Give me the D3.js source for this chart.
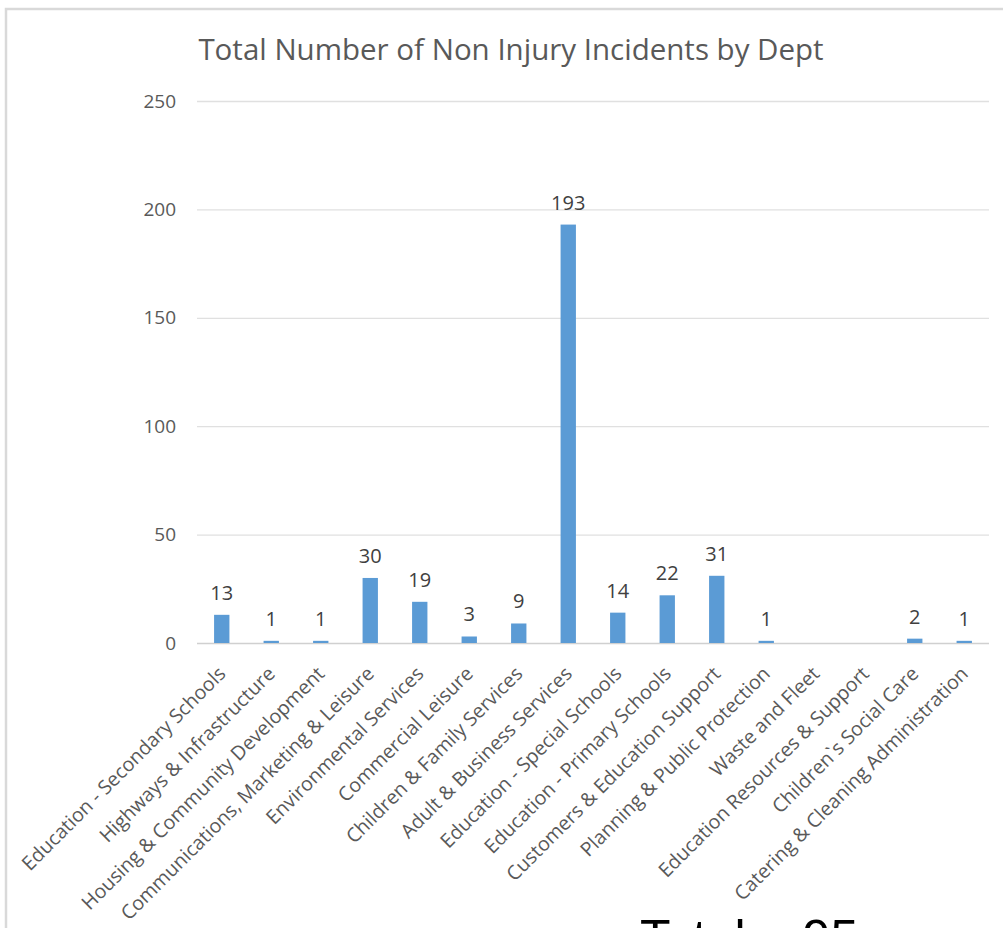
<!DOCTYPE html>
<html>
<head>
<meta charset="utf-8">
<script src="https://cdn.jsdelivr.net/npm/d3@7"></script>
<style>
  html, body { margin: 0; padding: 0; background: #fff; }
  svg { display: block; }
</style>
</head>
<body>
<svg id="chart" width="1003" height="928"></svg>
<script>
// Departments along the x axis
const departments = [
  "Education - Secondary Schools",
  "Highways & Infrastructure",
  "Housing & Community Development",
  "Communications, Marketing & Leisure",
  "Environmental Services",
  "Commercial Leisure",
  "Children & Family Services",
  "Adult & Business Services",
  "Education - Special Schools",
  "Education - Primary Schools",
  "Customers & Education Support",
  "Planning & Public Protection",
  "Waste and Fleet",
  "Education Resources & Support",
  "Children`s Social Care",
  "Catering & Cleaning Administration"
];
// Non injury incident counts (null = no incidents recorded)
const incidents = [13, 1, 1, 30, 19, 3, 9, 193, 14, 22, 31, 1, null, null, 2, 1];
const yTicks = [0, 50, 100, 150, 200, 250];
const chartTitle = "Total Number of Non Injury Incidents by Dept";
const footerText = "Total = 95";

const rows = departments.map((d, i) => ({ dept: d, value: incidents[i] }));

const svg = d3.select("#chart");
const font = "'Open Sans', 'Noto Sans', sans-serif";

// chart frame
svg.append("rect")
  .attr("x", 6).attr("y", 9)
  .attr("width", 1100).attr("height", 1100)
  .attr("fill", "#fff")
  .attr("stroke", "#d9d9d9").attr("stroke-width", 2.5);

const x = d3.scaleBand()
  .domain(departments)
  .range([197, 989])
  .paddingInner(0.69)
  .paddingOuter(0.345);

const y = d3.scaleLinear().domain([0, 250]).range([643, 101]);

// title
svg.append("text")
  .attr("x", 511).attr("y", 60)
  .attr("text-anchor", "middle")
  .attr("font-family", font)
  .attr("font-size", 29.5)
  .attr("fill", "#595959")
  .text(chartTitle);

// gridlines + y labels
const yAxis = d3.axisLeft(y)
  .tickValues(yTicks)
  .tickSize(-(989 - 197))
  .tickPadding(21);
const gy = svg.append("g").attr("transform", "translate(197,0)").call(yAxis);
gy.select(".domain").remove();
gy.selectAll(".tick line")
  .attr("stroke", d => d === 0 ? "#d0d0d0" : "#e0e0e0")
  .attr("stroke-width", 1.3);
gy.selectAll(".tick text")
  .attr("font-family", font)
  .attr("font-size", 19)
  .attr("fill", "#595959");

// bars
svg.append("g").selectAll("rect")
  .data(rows.filter(r => r.value != null))
  .join("rect")
  .attr("x", d => x(d.dept))
  .attr("width", x.bandwidth())
  .attr("y", d => y(d.value))
  .attr("height", d => y(0) - y(d.value))
  .attr("fill", "#5b9bd5");

// value labels
svg.append("g").selectAll("text")
  .data(rows.filter(r => r.value != null))
  .join("text")
  .attr("x", d => x(d.dept) + x.bandwidth() / 2)
  .attr("y", d => y(d.value) - 15)
  .attr("text-anchor", "middle")
  .attr("font-family", font)
  .attr("font-size", 20)
  .attr("fill", "#404040")
  .text(d => d.value);

// rotated category labels
const xAxis = d3.axisBottom(x).tickSize(0).tickPadding(0);
const gx = svg.append("g").attr("transform", "translate(0,643)").call(xAxis);
gx.select(".domain").remove();
gx.selectAll(".tick text")
  .attr("font-family", font)
  .attr("font-size", 19.6)
  .attr("fill", "#595959")
  .attr("text-anchor", "end")
  .attr("dy", null)
  .attr("y", 0)
  .attr("transform", "translate(5,32) rotate(-45)");

// footer text, cut off by the page edge
svg.append("text")
  .attr("x", 640).attr("y", 955)
  .attr("font-family", "'Liberation Sans', Arial, sans-serif")
  .attr("font-size", 50)
  .attr("fill", "#000")
  .text(footerText);
</script>
</body>
</html>
